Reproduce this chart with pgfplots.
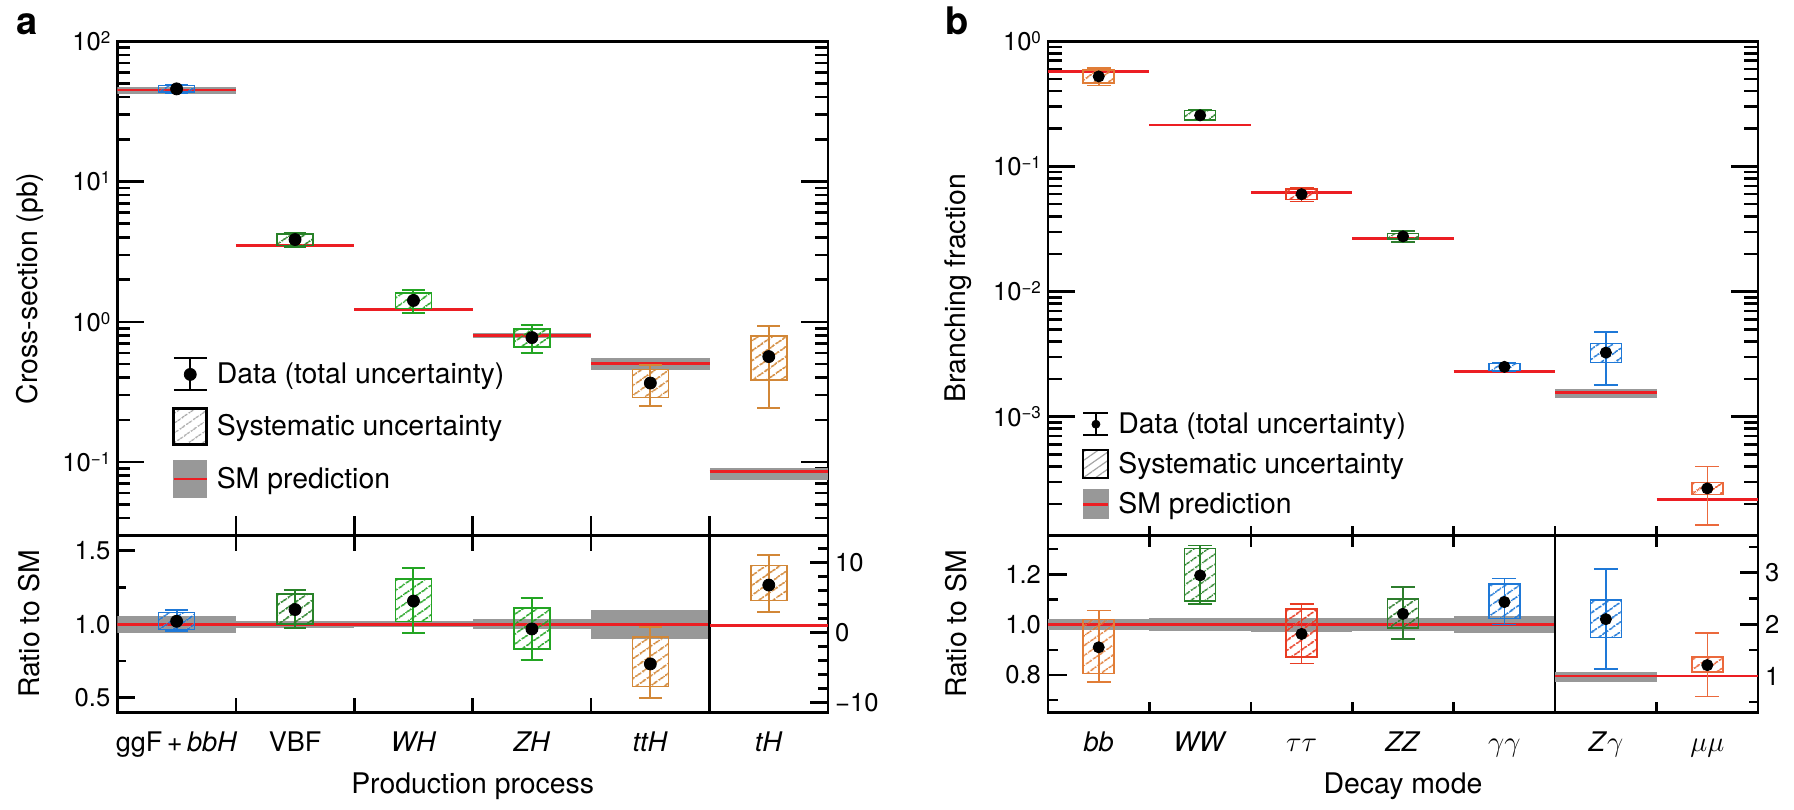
\documentclass[border=0pt]{standalone}
\usepackage{fontspec}
\setmainfont{TeX Gyre Heros}
\usepackage{pgfplots}
\pgfplotsset{compat=1.18}
\usetikzlibrary{patterns.meta}

\definecolor{cblue}{RGB}{30,120,215}
\definecolor{cgreenD}{RGB}{40,130,40}
\definecolor{cgreen}{RGB}{35,165,35}
\definecolor{cgreenB}{RGB}{45,125,45}
\definecolor{cochre}{RGB}{210,135,55}
\definecolor{corange}{RGB}{225,125,55}
\definecolor{cred}{RGB}{232,60,35}
\definecolor{corange2}{RGB}{235,105,60}
\definecolor{smred}{RGB}{236,30,35}
\definecolor{smgray}{RGB}{152,152,152}

\newcommand\tickfont{\fontsize{12.8}{14}\selectfont}
\newcommand\labfont{\fontsize{14.2}{16}\selectfont}
\newcommand\catfont{\fontsize{13.5}{15}\selectfont}
\newcommand\sups[1]{\raisebox{3.6pt}{\fontsize{8.5}{9}\selectfont #1}}

\def\errlw{1pt}
\def\boxlw{0.8pt}
\def\dotr{3pt}
\def\bhw{0.152}
\def\chw{0.096}

\newcommand\band[4]{\addplot[fill=smgray, draw=none, forget plot] coordinates {(#1,#3) (#2,#3) (#2,#4) (#1,#4)} -- cycle;}
\newcommand\smline[3]{\addplot[smred, line width=1.4pt, forget plot] coordinates {(#1,#3) (#2,#3)};}
% #1 colour, #2 x centre, #3 value, #4 total low, #5 total high, #6 syst low, #7 syst high
\newcommand\meas[7]{%
  \pgfmathsetmacro\mbl{#2-\bhw}\pgfmathsetmacro\mbr{#2+\bhw}%
  \pgfmathsetmacro\mcl{#2-\chw}\pgfmathsetmacro\mcr{#2+\chw}%
  \addplot[draw=#1, line width=\boxlw, pattern={Lines[angle=35,distance=4pt,line width=0.8pt]}, pattern color=#1, forget plot] coordinates {(\mbl,#6) (\mbr,#6) (\mbr,#7) (\mbl,#7)} -- cycle;
  \addplot[#1, line width=\errlw, forget plot] coordinates {(#2,#4) (#2,#5)};
  \addplot[#1, line width=\errlw, forget plot] coordinates {(\mcl,#4) (\mcr,#4)};
  \addplot[#1, line width=\errlw, forget plot] coordinates {(\mcl,#5) (\mcr,#5)};
  \addplot[black, only marks, mark=*, mark size=\dotr, forget plot] coordinates {(#2,#3)};
}

\pgfplotsset{
  common/.style={scale only axis, tick align=inside,
    axis line style={line width=1.35pt},
    tick style={line width=1.3pt, black},
    yticklabel style={font=\tickfont}, clip=true},
}

\begin{document}
\begin{tikzpicture}
\path[use as bounding box] (0,0) rectangle (897pt,-404.5pt);

\node[anchor=base west, inner sep=0pt, font=\bfseries\fontsize{19}{20}\selectfont] at (8pt,-17pt) {a};
\node[anchor=base west, inner sep=0pt, font=\bfseries\fontsize{19}{20}\selectfont] at (472.5pt,-17pt) {b};

% ================= Panel a, upper =================
\begin{axis}[common,
  at={(58.7pt,-20.65pt)}, anchor=north west, width=355.3pt, height=247.15pt,
  xmin=0, xmax=6, ymode=log, ymin=0.0299, ymax=100,
  xtick={1,2,3,4,5}, xticklabels={}, xtick pos=left,
  xtick style={/pgfplots/major tick length=10pt},
  ytick={0.1,1,10,100},
  yticklabels={10\sups{−1},10\sups{0},10\sups{1},10\sups{2}},
  minor ytick={0.04,0.05,0.06,0.07,0.08,0.09,0.2,0.3,0.4,0.5,0.6,0.7,0.8,0.9,2,3,4,5,6,7,8,9,20,30,40,50,60,70,80,90},
  ytick pos=both, major tick length=13.5pt, minor tick length=6.5pt,
  ylabel={Cross-section (pb)},
  ylabel style={at={(axis description cs:-0.123,0.5)}, anchor=center, font=\labfont},
  legend style={at={(axis description cs:0.0768,0.3798)}, anchor=north west, draw=none, fill=none,
    inner sep=0pt, row sep=0pt, column sep=0pt, font=\labfont, nodes={inner sep=0pt, outer sep=0pt}},
  legend cell align=left,
]
\band{0}{1}{42.4}{47.4}\smline{0}{1}{44.9}
\band{1}{2}{3.44}{3.58}\smline{1}{2}{3.51}
\band{2}{3}{1.20}{1.25}\smline{2}{3}{1.226}
\band{3}{4}{0.77}{0.826}\smline{3}{4}{0.798}
\band{4}{5}{0.452}{0.553}\smline{4}{5}{0.502}
\band{5}{6}{0.0743}{0.0906}\smline{5}{6}{0.0856}
\meas{cblue}{0.5}{45.8}{42.9}{49.2}{43.3}{48.5}
\meas{cgreenD}{1.5}{3.86}{3.43}{4.33}{3.51}{4.23}
\meas{cgreen}{2.5}{1.42}{1.151}{1.698}{1.248}{1.60}
\meas{cgreen}{3.5}{0.772}{0.604}{0.942}{0.662}{0.885}
\meas{cochre}{4.5}{0.366}{0.251}{0.492}{0.289}{0.458}
\meas{cochre}{5.5}{0.565}{0.243}{0.93}{0.385}{0.79}
\addlegendimage{legend image code/.code={
  \path[draw=none,fill=none] (0pt,-13.075pt) rectangle (21.5pt,13.075pt);
  \draw[black,line width=1pt] (8.25pt,-8pt)--(8.25pt,8pt) (0pt,8pt)--(16.5pt,8pt) (0pt,-8pt)--(16.5pt,-8pt);
  \fill[black] (8.25pt,0pt) circle (3pt);}}
\addlegendentry{Data (total uncertainty)}
\addlegendimage{legend image code/.code={
  \path[draw=none,fill=none] (0pt,-13.075pt) rectangle (21.5pt,13.075pt);
  \draw[black,line width=1.3pt,pattern={Lines[angle=35,distance=4pt,line width=0.7pt]},pattern color=gray!70] (0pt,-9pt) rectangle (16.5pt,9pt);}}
\addlegendentry{Systematic uncertainty}
\addlegendimage{legend image code/.code={
  \path[draw=none,fill=none] (0pt,-13.075pt) rectangle (21.5pt,13.075pt);
  \fill[smgray] (0pt,-9.25pt) rectangle (16.5pt,9.25pt);
  \draw[smred,line width=1.4pt] (0pt,0pt)--(16.5pt,0pt);}}
\addlegendentry{SM prediction}
\end{axis}

% ================= Panel a, lower (left scale) =================
\begin{axis}[common,
  at={(58.7pt,-267.8pt)}, anchor=north west, width=355.3pt, height=88.55pt,
  xmin=0, xmax=6, ymin=0.398, ymax=1.603,
  xtick={0,1,2,3,4,5,6}, x tick label as interval,
  xticklabels={ggF\,+\,\textit{bbH},VBF,\textit{WH},\textit{ZH},\textit{ttH},\textit{tH}},
  xticklabel style={font=\catfont, anchor=base, yshift=-19.5pt},
  xtick pos=both, xtick style={/pgfplots/major tick length=7.5pt},
  ytick={0.5,1,1.5}, yticklabels={0.5,1.0,1.5}, minor ytick={0.75,1.25},
  ytick pos=left, major tick length=9pt, minor tick length=4.5pt,
  ylabel={Ratio to SM},
  ylabel style={at={(axis description cs:-0.1236,0.5)}, anchor=center, font=\labfont},
  xlabel={Production process},
  xlabel style={at={(axis description cs:0.5,-0.414)}, anchor=center, font=\labfont},
]
\band{0}{1}{0.94}{1.055}
\band{1}{2}{0.975}{1.022}
\band{2}{3}{0.98}{1.02}
\band{3}{4}{0.965}{1.035}
\band{4}{5}{0.90}{1.10}
\smline{0}{5}{1}
\meas{cblue}{0.5}{1.02}{0.955}{1.095}{0.965}{1.08}
\meas{cgreenD}{1.5}{1.10}{0.977}{1.233}{1.0}{1.205}
\meas{cgreen}{2.5}{1.158}{0.939}{1.385}{1.018}{1.306}
\meas{cgreen}{3.5}{0.968}{0.757}{1.181}{0.83}{1.109}
\meas{cochre}{4.5}{0.73}{0.501}{0.98}{0.576}{0.912}
\addplot[black, line width=1.3pt, forget plot] coordinates {(5,0.398) (5,1.603)};
\end{axis}

% ================= Panel a, lower (right scale, tH) =================
\begin{axis}[common,
  at={(58.7pt,-267.8pt)}, anchor=north west, width=355.3pt, height=88.55pt,
  xmin=0, xmax=6, ymin=-11.43, ymax=13.86,
  axis x line=none, axis y line*=right, tick align=inside,
  ytick={-10,0,10}, yticklabels={−10,0,10},
  minor ytick={-8,-6,-4,-2,2,4,6,8,12},
  major tick length=9pt, minor tick length=5pt,
]
\smline{5}{6}{1}
\meas{cochre}{5.5}{6.8}{3.0}{11.1}{4.6}{9.6}
\end{axis}

% ================= Panel b, upper =================
\def\errlw{0.8pt}
\def\boxlw{0.75pt}
\def\dotr{2.8pt}
\def\bhw{0.153}
\def\chw{0.118}
\begin{axis}[common,
  at={(524pt,-20.65pt)}, anchor=north west, width=355pt, height=247.15pt,
  xmin=0, xmax=7, ymode=log, ymin=0.000112, ymax=1,
  xtick={1,2,3,4,5,6}, xticklabels={}, xtick pos=left,
  xtick style={/pgfplots/major tick length=5pt},
  ytick={0.001,0.01,0.1,1},
  yticklabels={10\sups{−3},10\sups{−2},10\sups{−1},10\sups{0}},
  minor ytick={0.0002,0.0003,0.0004,0.0005,0.0006,0.0007,0.0008,0.0009,0.002,0.003,0.004,0.005,0.006,0.007,0.008,0.009,0.02,0.03,0.04,0.05,0.06,0.07,0.08,0.09,0.2,0.3,0.4,0.5,0.6,0.7,0.8,0.9},
  ytick pos=both, major tick length=13.5pt, minor tick length=7pt,
  ylabel={Branching fraction},
  ylabel style={at={(axis description cs:-0.1268,0.5)}, anchor=center, font=\labfont},
  legend style={at={(axis description cs:0.0475,0.2666)}, anchor=north west, draw=none, fill=none,
    inner sep=0pt, row sep=0pt, column sep=0pt, font=\labfont, nodes={inner sep=0pt, outer sep=0pt}},
  legend cell align=left,
]
\band{0}{1}{0.563}{0.589}\smline{0}{1}{0.576}
\band{1}{2}{0.209}{0.2195}\smline{1}{2}{0.2143}
\band{2}{3}{0.0606}{0.064}\smline{2}{3}{0.0623}
\band{3}{4}{0.0258}{0.0272}\smline{3}{4}{0.0265}
\band{4}{5}{0.00222}{0.00236}\smline{4}{5}{0.00229}
\band{5}{6}{0.00142}{0.00166}\smline{5}{6}{0.00156}
\band{6}{7}{0.000212}{0.000224}\smline{6}{7}{0.000218}
\meas{corange}{0.5}{0.524}{0.444}{0.609}{0.464}{0.588}
\meas{cgreenD}{1.5}{0.256}{0.232}{0.282}{0.235}{0.279}
\meas{cred}{2.5}{0.060}{0.0526}{0.0675}{0.0543}{0.0662}
\meas{cgreenB}{3.5}{0.0276}{0.025}{0.0305}{0.0262}{0.0292}
\meas{cblue}{4.5}{0.0025}{0.00229}{0.00271}{0.00234}{0.00266}
\meas{cblue}{5.5}{0.00325}{0.00179}{0.00475}{0.00272}{0.00383}
\meas{corange2}{6.5}{0.000267}{0.000136}{0.000399}{0.000238}{0.000297}
\addlegendimage{legend image code/.code={
  \path[draw=none,fill=none] (0pt,-10pt) rectangle (17.5pt,10pt);
  \draw[black,line width=0.8pt] (6.25pt,-5.5pt)--(6.25pt,5.5pt) (0pt,5.5pt)--(12.5pt,5.5pt) (0pt,-5.5pt)--(12.5pt,-5.5pt);
  \fill[black] (6.25pt,0pt) circle (2pt);}}
\addlegendentry{Data (total uncertainty)}
\addlegendimage{legend image code/.code={
  \path[draw=none,fill=none] (0pt,-10pt) rectangle (17.5pt,10pt);
  \draw[black,line width=1pt,pattern={Lines[angle=35,distance=3.5pt,line width=0.6pt]},pattern color=gray!70] (0pt,-7pt) rectangle (12.5pt,7pt);}}
\addlegendentry{Systematic uncertainty}
\addlegendimage{legend image code/.code={
  \path[draw=none,fill=none] (0pt,-10pt) rectangle (17.5pt,10pt);
  \fill[smgray] (0pt,-7.25pt) rectangle (12.5pt,7.25pt);
  \draw[smred,line width=1.3pt] (0pt,0pt)--(12.5pt,0pt);}}
\addlegendentry{SM prediction}
\end{axis}

% ================= Panel b, lower (left scale) =================
\begin{axis}[common,
  at={(524pt,-267.8pt)}, anchor=north west, width=355pt, height=88.55pt,
  xmin=0, xmax=7, ymin=0.65, ymax=1.354,
  xtick={0,1,2,3,4,5,6,7}, x tick label as interval,
  xticklabels={\textit{bb},\textit{WW},$\tau\tau$,\textit{ZZ},$\gamma\gamma$,\textit{Z}$\gamma$,$\mu\mu$},
  xticklabel style={font=\catfont, anchor=base, yshift=-19.5pt},
  xtick pos=both, xtick style={/pgfplots/major tick length=5.5pt},
  ytick={0.8,1,1.2}, yticklabels={0.8,1.0,1.2}, minor ytick={0.7,0.9,1.1,1.3},
  ytick pos=left, major tick length=9.5pt, minor tick length=5pt,
  ylabel={Ratio to SM},
  ylabel style={at={(axis description cs:-0.1296,0.5)}, anchor=center, font=\labfont},
  xlabel={Decay mode},
  xlabel style={at={(axis description cs:0.5,-0.414)}, anchor=center, font=\labfont},
]
\band{0}{1}{0.978}{1.023}
\band{1}{2}{0.973}{1.027}
\band{2}{3}{0.971}{1.028}
\band{3}{4}{0.973}{1.027}
\band{4}{5}{0.967}{1.033}
\smline{0}{5}{1}
\meas{corange}{0.5}{0.91}{0.771}{1.057}{0.805}{1.02}
\meas{cgreenD}{1.5}{1.196}{1.083}{1.315}{1.095}{1.302}
\meas{cred}{2.5}{0.963}{0.845}{1.083}{0.871}{1.062}
\meas{cgreenB}{3.5}{1.043}{0.943}{1.15}{0.987}{1.103}
\meas{cblue}{4.5}{1.09}{1.0}{1.184}{1.024}{1.162}
\addplot[black, line width=1.3pt, forget plot] coordinates {(5,0.65) (5,1.354)};
\end{axis}

% ================= Panel b, lower (right scale) =================
\begin{axis}[common,
  at={(524pt,-267.8pt)}, anchor=north west, width=355pt, height=88.55pt,
  xmin=0, xmax=7, ymin=0.289, ymax=3.718,
  axis x line=none, axis y line*=right, tick align=inside,
  ytick={1,2,3}, yticklabels={1,2,3}, minor ytick={0.5,1.5,2.5,3.5},
  major tick length=9pt, minor tick length=4.5pt,
]
\band{5}{6}{0.89}{1.08}
\smline{5}{7}{1}
\meas{cblue}{5.5}{2.1}{1.14}{3.07}{1.75}{2.47}
\meas{corange2}{6.5}{1.21}{0.60}{1.83}{1.08}{1.37}
\end{axis}
\end{tikzpicture}
\end{document}
